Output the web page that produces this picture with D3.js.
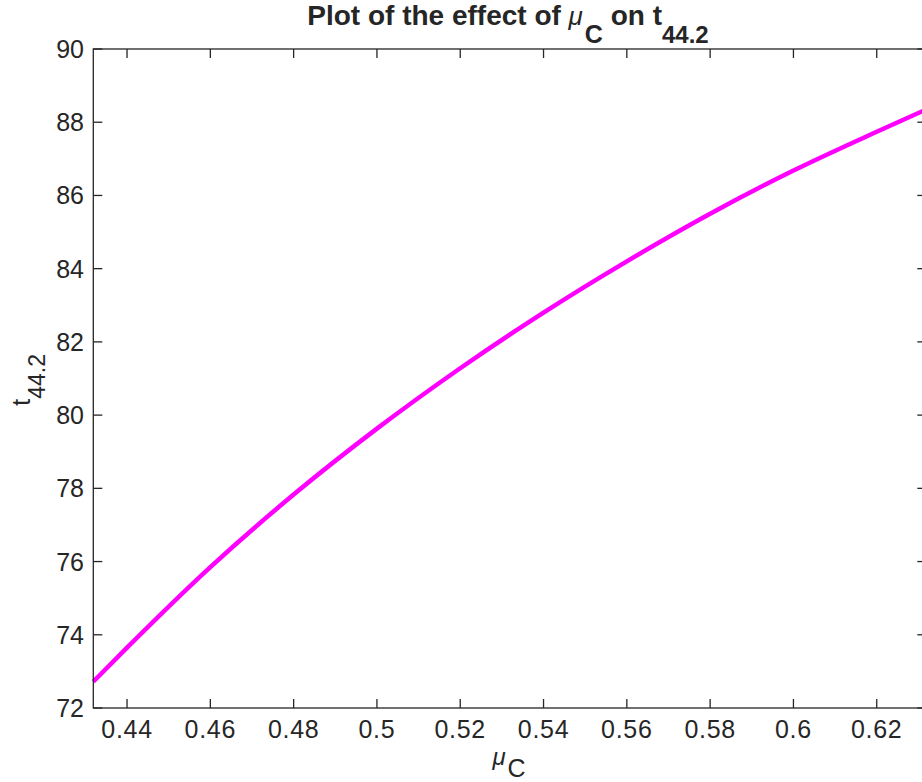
<!DOCTYPE html>
<html>
<head>
<meta charset="utf-8">
<script src="https://cdn.jsdelivr.net/npm/d3@7"></script>
<style>
  body { margin: 0; background: #fff; }
  svg { display: block; overflow: hidden; }
  text { font-family: "Liberation Sans", Arial, Helvetica, sans-serif; fill: #262626; }
</style>
</head>
<body>
<svg id="chart" width="922" height="782"></svg>
<script>
// values
const muC = [0.4319, 0.44, 0.46, 0.48, 0.50, 0.52, 0.54, 0.56, 0.58, 0.60, 0.62, 0.6319];
const t442 = [72.72, 73.65, 75.85, 77.83, 79.63, 81.28, 82.80, 84.20, 85.50, 86.68, 87.74, 88.35];
const xTicks = [0.44, 0.46, 0.48, 0.5, 0.52, 0.54, 0.56, 0.58, 0.6, 0.62];
const yTicks = [72, 74, 76, 78, 80, 82, 84, 86, 88, 90];

const plot = { left: 93.3, right: 926.3, top: 49, bottom: 708 };
const tickLen = 9;
const axisColor = '#262626';

const svg = d3.select('#chart');

const x = d3.scaleLinear().domain([0.4319, 0.6319]).range([plot.left, plot.right]);
const y = d3.scaleLinear().domain([72, 90]).range([plot.bottom, plot.top]);

// line
const line = d3.line()
  .x((d, i) => x(muC[i]))
  .y(d => y(d))
  .curve(d3.curveMonotoneX);

svg.append('path')
  .datum(t442)
  .attr('d', line)
  .attr('fill', 'none')
  .attr('stroke', '#ff00ff')
  .attr('stroke-width', 4.5)
  .attr('stroke-linejoin', 'round');

// box + ticks
const g = svg.append('g').attr('stroke', axisColor).attr('stroke-width', 1.3).attr('fill', 'none');
g.append('rect').attr('x', plot.left).attr('y', plot.top)
  .attr('width', plot.right - plot.left).attr('height', plot.bottom - plot.top);

xTicks.forEach(v => {
  g.append('line').attr('x1', x(v)).attr('x2', x(v)).attr('y1', plot.bottom).attr('y2', plot.bottom - tickLen);
  g.append('line').attr('x1', x(v)).attr('x2', x(v)).attr('y1', plot.top).attr('y2', plot.top + tickLen);
});
yTicks.forEach(v => {
  g.append('line').attr('x1', plot.left).attr('x2', plot.left + tickLen).attr('y1', y(v)).attr('y2', y(v));
  g.append('line').attr('x1', plot.right).attr('x2', plot.right - tickLen).attr('y1', y(v)).attr('y2', y(v));
});

// tick labels
svg.selectAll('.xt').data(xTicks).enter().append('text')
  .attr('class', 'xt')
  .attr('x', d => x(d))
  .attr('y', 738)
  .attr('text-anchor', 'middle')
  .style('font-size', '25px')
  .style('letter-spacing', '0.7px')
  .text(d => d3.format('')(d));

svg.selectAll('.yt').data(yTicks).enter().append('text')
  .attr('class', 'yt')
  .attr('x', 84)
  .attr('y', d => y(d) + 9)
  .attr('text-anchor', 'end')
  .style('font-size', '25px')
  .text(d => d);

// x label
const xl = svg.append('text')
  .attr('x', 509)
  .attr('y', 765)
  .attr('text-anchor', 'middle')
  .style('font-size', '24px');
xl.append('tspan').text('μ').style('font-style', 'italic').style('font-weight', '300');
xl.append('tspan').text('C').attr('dy', 12).attr('dx', 2).style('font-size', '25px');

// y label
const yl = svg.append('text')
  .attr('transform', 'translate(30,380) rotate(-90)')
  .attr('text-anchor', 'middle')
  .style('font-size', '26px');
yl.append('tspan').text('t');
yl.append('tspan').text('44.2').attr('dy', 15).style('font-size', '23px');

// title
const title = svg.append('text')
  .attr('x', 508)
  .attr('y', 25)
  .attr('text-anchor', 'middle')
  .style('font-size', '28px')
  .style('font-weight', 'bold');
title.append('tspan').text('Plot of the effect of ');
title.append('tspan').text('μ').style('font-weight', 'normal').style('font-style', 'italic').style('font-size', '26px');
title.append('tspan').text('C').attr('dy', 18).attr('dx', 2).style('font-size', '25px');
title.append('tspan').text(' on t').attr('dy', -18);
title.append('tspan').text('44.2').attr('dy', 18).style('font-size', '24px');
</script>
</body>
</html>
